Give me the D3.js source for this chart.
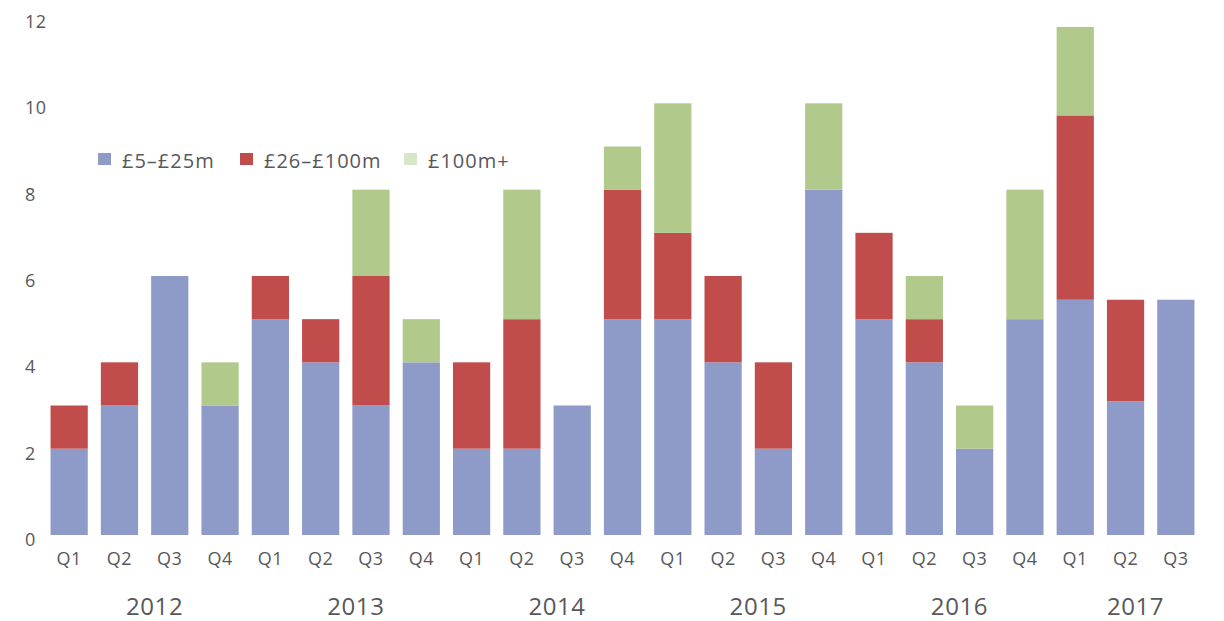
<!DOCTYPE html>
<html>
<head>
<meta charset="utf-8">
<script src="https://cdn.jsdelivr.net/npm/d3@7"></script>
<style>
  body { margin: 0; background: #fff; }
  svg text { font-family: "Open Sans", Lato, sans-serif; fill: #58585a; }
</style>
</head>
<body>
<svg class="chart"></svg>
<script>
'use strict'
// quarterly deal counts by size band
const quarters = ['Q1','Q2','Q3','Q4','Q1','Q2','Q3','Q4','Q1','Q2','Q3','Q4',
                  'Q1','Q2','Q3','Q4','Q1','Q2','Q3','Q4','Q1','Q2','Q3']
const years = ['2012','2012','2012','2012','2013','2013','2013','2013','2014','2014','2014','2014',
               '2015','2015','2015','2015','2016','2016','2016','2016','2017','2017','2017']
const small = [2, 3, 6, 3, 5, 4, 3, 4, 2, 2, 3, 5, 5, 4, 2, 8, 5, 4, 2, 5, 5.45, 3.1, 5.45]
const mid   = [1, 1, 0, 0, 1, 1, 3, 0, 2, 3, 0, 3, 2, 2, 2, 0, 2, 1, 0, 0, 4.27, 2.35, 0]
const large = [0, 0, 0, 1, 0, 0, 2, 1, 0, 3, 0, 1, 3, 0, 0, 2, 0, 1, 1, 3, 2.05, 0, 0]
const seriesNames = ['£5–£25m', '£26–£100m', '£100m+']
const yTicks = [0, 2, 4, 6, 8, 10, 12]

const width = 1224,
    height = 621,
    colors = ['#8e9ac8', '#c04c4b', '#b1ca8b'],
    legendColors = ['#8e9ac8', '#c04c4b', '#d7e5c8']

const rows = quarters.map((q, i) => {
  return {key: i, q: q, year: years[i], s0: small[i], s1: mid[i], s2: large[i]}
})

const x = d3.scaleBand()
  .domain(rows.map(d => d.key))
  .range([44, 1201])
  .paddingInner(0.26)
  .paddingOuter(0.13)

const y = d3.scaleLinear()
  .domain([0, 12])
  .range([535, 17])

const svg = d3.select('.chart')
  .attr('width', width)
  .attr('height', height)

const stacked = d3.stack().keys(['s0', 's1', 's2'])(rows)

svg.append('g')
  .selectAll('g')
  .data(stacked)
  .enter().append('g')
  .attr('fill', (d, i) => colors[i])
  .selectAll('rect')
  .data(d => d.filter(p => p[1] > p[0]))
  .enter().append('rect')
  .attr('x', d => x(d.data.key))
  .attr('width', x.bandwidth())
  .attr('y', d => y(d[1]))
  .attr('height', d => y(d[0]) - y(d[1]))

// y labels, left aligned, no axis line
svg.append('g')
  .selectAll('text')
  .data(yTicks)
  .enter().append('text')
  .attr('x', 25)
  .attr('y', d => y(d) + 11)
  .attr('font-size', 18)
  .attr('letter-spacing', 0.5)
  .text(d => d)

// quarter labels
svg.append('g')
  .selectAll('text')
  .data(rows)
  .enter().append('text')
  .attr('x', d => x(d.key) + x.bandwidth() / 2)
  .attr('y', 565)
  .attr('text-anchor', 'middle')
  .attr('font-size', 18)
  .attr('letter-spacing', 0.5)
  .text(d => d.q)

// year labels, centred a little right of their quarters
const yearGroups = d3.groups(rows, d => d.year)
svg.append('g')
  .selectAll('text')
  .data(yearGroups)
  .enter().append('text')
  .attr('x', d => {
    const first = d[1][0].key, last = d[1][d[1].length - 1].key
    return (x(first) + x(last) + x.bandwidth()) / 2 + 10
  })
  .attr('y', 615)
  .attr('text-anchor', 'middle')
  .attr('font-size', 24)
  .attr('letter-spacing', 0.6)
  .text(d => d[0])

// legend
const legendX = [98, 240, 404]
const legend = svg.append('g')
  .selectAll('g')
  .data(seriesNames)
  .enter().append('g')
  .attr('transform', (d, i) => 'translate(' + [legendX[i], 153] + ')')
legend.append('rect')
  .attr('width', 13)
  .attr('height', 12)
  .attr('fill', (d, i) => legendColors[i])
legend.append('text')
  .attr('x', 24)
  .attr('y', 15)
  .attr('font-size', 20)
  .attr('letter-spacing', 1)
  .text(d => d)
</script>
</body>
</html>
